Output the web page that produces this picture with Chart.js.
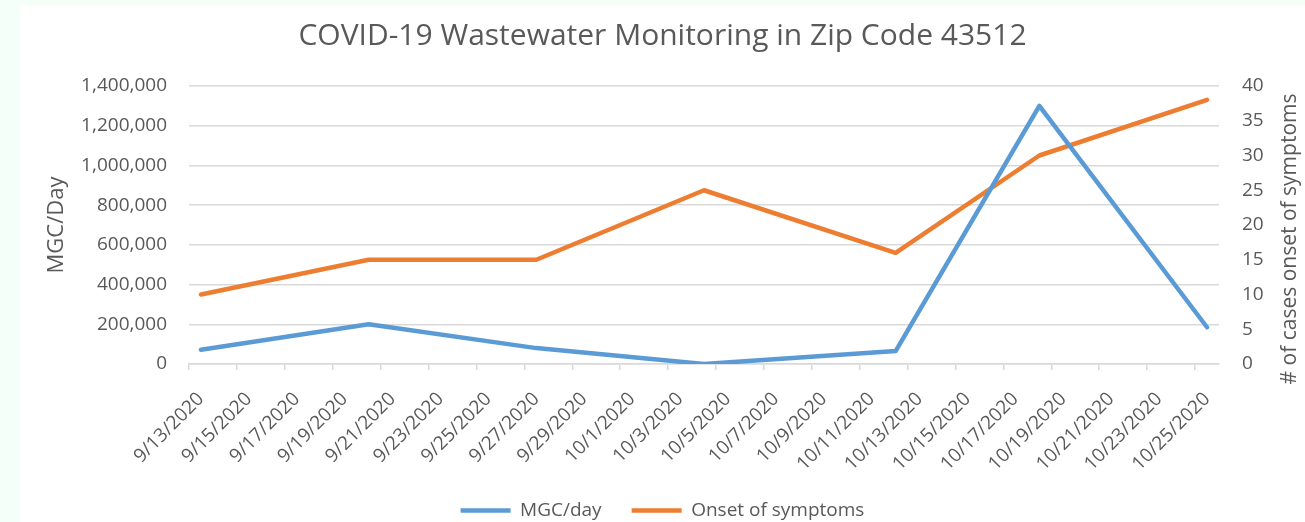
<!DOCTYPE html>
<html>
<head>
    <meta charset="UTF-8">
    <title>COVID-19 Wastewater Monitoring</title>
    <script src="https://cdn.jsdelivr.net/npm/chart.js@4.4.0/dist/chart.umd.min.js"></script>
    <style type="text/css">
        body {
            margin: 0px;
            padding: 0px;
            background-color: #f4fff9;
        }
        #box {
            position: absolute;
            left: 20px;
            top: 5px;
            width: 1285px;
            height: 517px;
            background-color: #ffffff;
        }
    </style>
</head>
<body>
<div id="box">
    <canvas id="wwChart"></canvas>
</div>
<script type="text/javascript">
    // every day on the axis (labels shown every other day)
    var days = [
        "9/13/2020", "9/14/2020", "9/15/2020", "9/16/2020", "9/17/2020", "9/18/2020",
        "9/19/2020", "9/20/2020", "9/21/2020", "9/22/2020", "9/23/2020", "9/24/2020",
        "9/25/2020", "9/26/2020", "9/27/2020", "9/28/2020", "9/29/2020", "9/30/2020",
        "10/1/2020", "10/2/2020", "10/3/2020", "10/4/2020", "10/5/2020", "10/6/2020",
        "10/7/2020", "10/8/2020", "10/9/2020", "10/10/2020", "10/11/2020", "10/12/2020",
        "10/13/2020", "10/14/2020", "10/15/2020", "10/16/2020", "10/17/2020", "10/18/2020",
        "10/19/2020", "10/20/2020", "10/21/2020", "10/22/2020", "10/23/2020", "10/24/2020",
        "10/25/2020"
    ];

    // sample dates and values
    var sampleDates = ["9/13/2020", "9/20/2020", "9/27/2020", "10/4/2020", "10/12/2020", "10/18/2020", "10/25/2020"];
    var mgcPerDay = [72000, 200000, 80000, 0, 65000, 1300000, 185000];
    var onsetCases = [10, 15, 15, 25, 16, 30, 38];

    var leftTicks = [0, 200000, 400000, 600000, 800000, 1000000, 1200000, 1400000];
    var rightTicks = [0, 5, 10, 15, 20, 25, 30, 35, 40];

    var textColor = "#595959";
    var gridColor = "#d9d9d9";
    var fontName = "'Open Sans', 'Liberation Sans', sans-serif";

    function pairUp(dates, values) {
        return dates.map(function (d, i) { return { x: d, y: values[i] }; });
    }

    // right axis title reads bottom-to-top like the left one
    var rightTitle = {
        id: "rightTitle",
        afterDraw: function (c) {
            var g = c.ctx;
            g.save();
            g.translate(c.width - 15, (c.chartArea.top + c.chartArea.bottom) / 2 + 14);
            g.rotate(-Math.PI / 2);
            g.font = "21px " + fontName;
            g.fillStyle = textColor;
            g.textAlign = "center";
            g.textBaseline = "middle";
            g.fillText("# of cases onset of symptoms", 0, 0);
            g.restore();
        }
    };

    var ctx = document.getElementById("wwChart").getContext("2d");
    var chart = new Chart(ctx, {
        type: "line",
        data: {
            labels: days,
            datasets: [{
                label: "MGC/day",
                data: pairUp(sampleDates, mgcPerDay),
                yAxisID: "y",
                borderColor: "#5b9bd5",
                backgroundColor: "#5b9bd5",
                borderWidth: 4.5,
                borderCapStyle: "round",
                borderJoinStyle: "round",
                pointRadius: 0,
                pointStyle: "line",
                tension: 0
            }, {
                label: "Onset of symptoms",
                data: pairUp(sampleDates, onsetCases),
                yAxisID: "y1",
                borderColor: "#ed7d31",
                backgroundColor: "#ed7d31",
                borderWidth: 4.5,
                borderCapStyle: "round",
                borderJoinStyle: "round",
                pointRadius: 0,
                pointStyle: "line",
                tension: 0
            }]
        },
        plugins: [rightTitle],
        options: {
            responsive: true,
            maintainAspectRatio: false,
            animation: false,
            layout: {
                autoPadding: false,
                padding: { left: 0, right: 0, top: 0, bottom: -8 }
            },
            plugins: {
                title: {
                    display: true,
                    text: "COVID-19 Wastewater Monitoring in Zip Code 43512",
                    color: textColor,
                    font: { family: fontName, size: 30, weight: "normal" },
                    padding: { top: 13, bottom: 32 }
                },
                legend: {
                    position: "bottom",
                    labels: {
                        color: textColor,
                        font: { family: fontName, size: 19 },
                        usePointStyle: true,
                        pointStyle: "line",
                        pointStyleWidth: 50,
                        boxHeight: 10,
                        padding: 30
                    }
                },
                tooltip: { enabled: false }
            },
            scales: {
                x: {
                    type: "category",
                    offset: true,
                    afterFit: function (axis) { axis.height = 107; },
                    grid: {
                        offset: true,
                        drawOnChartArea: false,
                        tickLength: 6,
                        lineWidth: 1.5,
                        color: function (c) { return c.index % 2 === 0 ? gridColor : "rgba(0,0,0,0)"; }
                    },
                    border: { color: gridColor, width: 1.5 },
                    ticks: {
                        autoSkip: false,
                        maxRotation: 45,
                        minRotation: 45,
                        padding: 18,
                        color: textColor,
                        font: { family: fontName, size: 19 },
                        callback: function (v, i) { return i % 2 === 0 ? days[i] : ""; }
                    }
                },
                y: {
                    position: "left",
                    min: 0,
                    max: 1400000,
                    afterFit: function (axis) { axis.width = 169; },
                    afterBuildTicks: function (axis) {
                        axis.ticks = leftTicks.map(function (v) { return { value: v }; });
                    },
                    grid: { color: gridColor, lineWidth: 1.5, drawTicks: false },
                    border: { display: false },
                    ticks: {
                        padding: 22,
                        color: textColor,
                        font: { family: fontName, size: 19 },
                        callback: function (v) { return v.toLocaleString("en-US"); }
                    },
                    title: {
                        display: true,
                        text: "MGC/Day",
                        color: textColor,
                        font: { family: fontName, size: 22 },
                        padding: { top: 24, bottom: 0 }
                    }
                },
                y1: {
                    position: "right",
                    min: 0,
                    max: 40,
                    afterFit: function (axis) { axis.width = 86; },
                    afterBuildTicks: function (axis) {
                        axis.ticks = rightTicks.map(function (v) { return { value: v }; });
                    },
                    grid: { drawOnChartArea: false, drawTicks: false },
                    border: { display: false },
                    ticks: {
                        padding: 23,
                        color: textColor,
                        font: { family: fontName, size: 19 }
                    }
                }
            }
        }
    });
</script>
</body>
</html>
